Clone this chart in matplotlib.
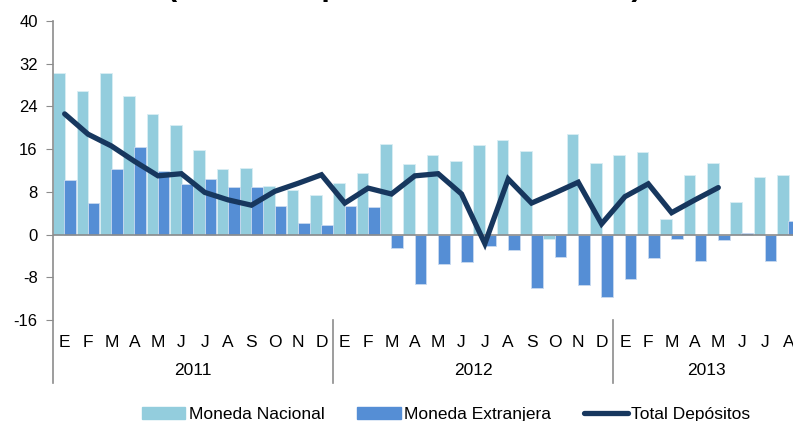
import numpy as np
import matplotlib
matplotlib.use("Agg")
import matplotlib.pyplot as plt
from matplotlib.lines import Line2D
from matplotlib.patches import Patch

plt.rcParams['font.family'] = ['Liberation Sans', 'DejaVu Sans']
plt.rcParams['axes.unicode_minus'] = False

meses = ['E', 'F', 'M', 'A', 'M', 'J', 'J', 'A', 'S', 'O', 'N', 'D']
anios = ['2011', '2012', '2013']
etiquetas = meses * 2 + meses[:8]

# variación interanual (%) ene-2011 a ago-2013
moneda_nacional = [30.2, 26.8, 30.3, 25.9, 22.6, 20.5, 15.8, 12.2, 12.5, 9.1, 8.4, 7.4,
                   9.6, 11.5, 17.0, 13.3, 14.9, 13.7, 16.8, 17.7, 15.6, -0.8, 18.8, 13.4,
                   14.9, 15.4, 2.9, 11.1, 13.4, 6.1, 10.8, 11.2]
moneda_extranjera = [10.3, 5.9, 12.2, 16.4, 11.9, 9.4, 10.4, 9.0, 9.0, 5.4, 2.1, 1.8,
                     5.4, 5.2, -2.6, -9.3, -5.6, -5.2, -2.2, -2.8, -10.0, -4.2, -9.5, -11.7,
                     -8.4, -4.4, -0.9, -4.9, -1.1, 0.3, -4.9, 2.5]
total_depositos = [22.6, 18.8, 16.6, 13.7, 11.0, 11.4, 7.9, 6.5, 5.5, 8.1, 9.6, 11.2,
                   5.9, 8.7, 7.6, 11.0, 11.4, 7.6, -1.7, 10.4, 5.9, 7.8, 9.8, 2.0,
                   7.1, 9.5, 4.1, 6.5, 8.8]

W, H = 793, 421
fig = plt.figure(figsize=(W / 100, H / 100), dpi=100)
ax = fig.add_axes([53 / W, (H - 320) / H, (800 - 53) / W, (320 - 21) / H])

x = np.arange(len(etiquetas))
ax.bar(x - 0.24, moneda_nacional, 0.5, color='#93CDDD', edgecolor='#D9EEF4', linewidth=0.6, zorder=2)
ax.bar(x + 0.24, moneda_extranjera, 0.5, color='#558ED5', edgecolor='#C9DAF0', linewidth=0.6, zorder=2)
ax.plot(np.arange(len(total_depositos)), total_depositos, color='#17375E', lw=3.8,
        solid_joinstyle='miter', solid_capstyle='round', zorder=4)

ax.axhline(0, color='#8C8C8C', lw=1.2, zorder=3)
ax.set_xlim(-0.5, len(etiquetas) - 0.5)
ax.set_ylim(-16, 40)
ax.set_yticks(np.arange(-16, 41, 8))
ax.tick_params(axis='y', labelsize=12, length=5, color='#8C8C8C', pad=6)
ax.set_xticks([])
for s in ['top', 'right', 'bottom', 'left']:
    ax.spines[s].set_visible(False)

# eje de categorías en dos niveles (mes / año)
trans = ax.get_xaxis_transform()
for i, m in enumerate(etiquetas):
    ax.text(i, -0.074, m, transform=trans, ha='center', va='center', fontsize=12.5, clip_on=False)
for k, a in enumerate(anios):
    ini = 12 * k - 0.5
    fin = min(12 * k + 11.5, len(etiquetas) - 0.5)
    ax.text((ini + fin) / 2, -0.17, a, transform=trans, ha='center', va='center', fontsize=12.5)
    ax.add_line(Line2D([ini, ini], [-0.21, 0 if k else 1], transform=trans,
                       color='#8C8C8C', lw=1.2, clip_on=False))

fig.text(0.51, 1.012, '(Variación porcentual interanual)', ha='center', va='baseline',
         fontsize=22, fontweight='bold')

handles = [Patch(facecolor='#93CDDD', edgecolor='#93CDDD'),
           Patch(facecolor='#558ED5', edgecolor='#558ED5'),
           Line2D([], [], color='#17375E', lw=3.8, solid_capstyle='round')]
fig.legend(handles, ['Moneda Nacional', 'Moneda Extranjera', 'Total Depósitos'],
           loc='center', bbox_to_anchor=(0.5625, 0.016), ncol=3, frameon=False,
           fontsize=12.5, handlelength=2.5, handletextpad=0.2, columnspacing=1.9)

fig.savefig('out.png', dpi=100)
